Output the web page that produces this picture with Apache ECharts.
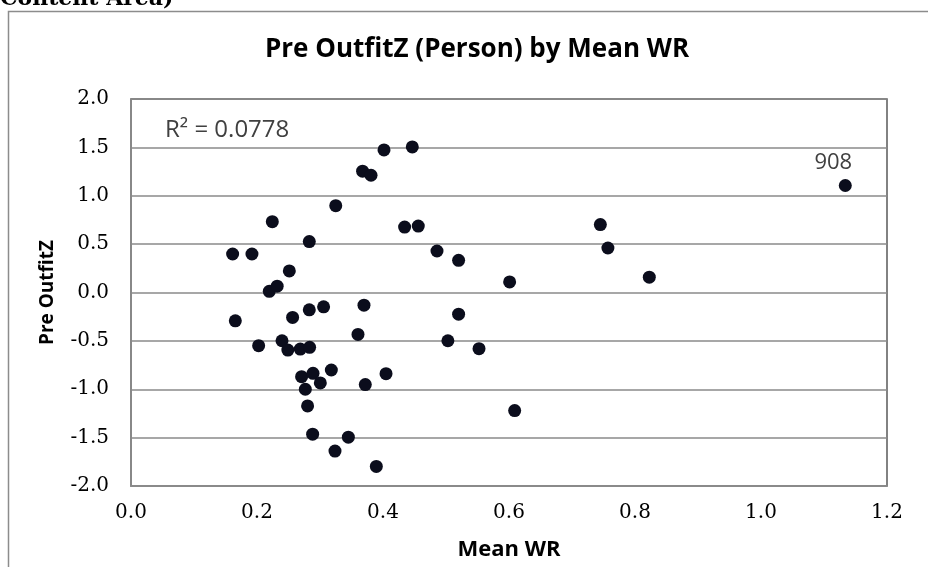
<!DOCTYPE html>
<html>
<head>
<meta charset="utf-8">
<script src="https://cdn.jsdelivr.net/npm/echarts@6/dist/echarts.min.js"></script>
<style>
  html, body { margin: 0; padding: 0; background: #ffffff; }
  #chart { width: 928px; height: 567px; }
</style>
</head>
<body>
<div id="chart"></div>
<script>
// Mean WR (x) and Pre OutfitZ (y) per person
const meanWR = [
  0.4016, 0.4465, 0.3676, 0.381, 0.325, 0.2243, 0.283, 0.1613, 0.192, 0.2513,
  0.2195, 0.232, 0.4343, 0.456, 0.4857, 0.52, 0.601, 0.745, 0.757, 0.8227,
  1.1338, 0.1656, 0.283, 0.3057, 0.3698, 0.2565, 0.2026, 0.2397, 0.249, 0.2687,
  0.2835, 0.3603, 0.2708, 0.2889, 0.318, 0.3005, 0.4048, 0.3719, 0.2767, 0.2803,
  0.2883, 0.345, 0.3238, 0.3894, 0.52, 0.503, 0.5524, 0.609
];
const preOutfitZ = [
  1.474, 1.505, 1.254, 1.212, 0.897, 0.732, 0.526, 0.398, 0.398, 0.223,
  0.012, 0.065, 0.676, 0.687, 0.429, 0.333, 0.109, 0.702, 0.46, 0.158,
  1.106, -0.293, -0.179, -0.148, -0.131, -0.258, -0.55, -0.499, -0.595, -0.585,
  -0.567, -0.433, -0.87, -0.835, -0.801, -0.935, -0.839, -0.952, -1.0, -1.172,
  -1.464, -1.495, -1.639, -1.798, -0.224, -0.499, -0.581, -1.22
];
// Person ids shown next to their point
const pointLabels = { 20: '908' };

const xTicks = { min: 0, max: 1.2, step: 0.2 };
const yTicks = { min: -2, max: 2, step: 0.5 };
const rSquared = 'R² = 0.0778';

const chart = echarts.init(document.getElementById('chart'), null, { renderer: 'canvas' });

const points = meanWR.map((x, i) => {
  const item = { value: [x, preOutfitZ[i]] };
  if (pointLabels[i] !== undefined) {
    item.label = {
      show: true,
      formatter: pointLabels[i],
      position: 'top',
      offset: [-12, 0],
      color: '#404040',
      fontFamily: 'Open Sans',
      fontSize: 22
    };
  }
  return item;
});

const tickFont = { fontFamily: 'DejaVu Serif', fontSize: 20, color: '#000' };

chart.setOption({
  animation: false,
  backgroundColor: '#ffffff',
  title: {
    text: 'Pre OutfitZ (Person) by Mean WR',
    left: 472, top: 32, textAlign: 'center',
    textStyle: { fontFamily: 'Open Sans', fontWeight: 'bold', fontSize: 26, color: '#000' }
  },
  grid: {
    left: 131, top: 99, right: 41, bottom: 81,
    show: true, borderColor: '#5a5a5a', borderWidth: 1.5, backgroundColor: 'transparent'
  },
  xAxis: {
    type: 'value',
    min: xTicks.min, max: xTicks.max, interval: xTicks.step,
    name: 'Mean WR', nameLocation: 'middle', nameGap: 53,
    nameTextStyle: { fontFamily: 'Open Sans', fontWeight: 'bold', fontSize: 22, color: '#000' },
    axisLine: { show: true, onZero: false, lineStyle: { color: '#8a8a8a', width: 1.5 } },
    axisTick: { show: false },
    splitLine: { show: false },
    axisLabel: Object.assign({ margin: 17, formatter: v => v.toFixed(1) }, tickFont)
  },
  yAxis: {
    type: 'value',
    min: yTicks.min, max: yTicks.max, interval: yTicks.step,
    name: 'Pre OutfitZ', nameLocation: 'middle', nameGap: 74, nameRotate: 90,
    nameTextStyle: { fontFamily: 'Open Sans', fontWeight: 'bold', fontSize: 19, color: '#000' },
    axisLine: { show: true, onZero: false, lineStyle: { color: '#8a8a8a', width: 1.5 } },
    axisTick: { show: false },
    splitLine: { show: true, lineStyle: { color: '#8a8a8a', width: 1.5 } },
    axisLabel: Object.assign({ margin: 22, formatter: v => v.toFixed(1) }, tickFont)
  },
  graphic: [
    {
      type: 'rect', silent: true, z: -1,
      shape: { x: 8.5, y: 11.5, width: 960, height: 620 },
      style: { fill: 'none', stroke: '#8c8c8c', lineWidth: 1.5 }
    },
    {
      type: 'text', left: 0, top: -12,
      style: { text: 'Content Area)', fontFamily: 'DejaVu Serif', fontWeight: 'bold', fontSize: 22, fill: '#000' }
    },
    {
      type: 'text', left: 165, top: 118,
      style: { text: rSquared, fontFamily: 'Open Sans', fontSize: 24, fill: '#404040' }
    }
  ],
  series: [{
    type: 'scatter',
    data: points,
    symbol: 'circle',
    symbolSize: 13,
    itemStyle: { color: '#0b0d1c', opacity: 1 }
  }]
});
</script>
</body>
</html>
